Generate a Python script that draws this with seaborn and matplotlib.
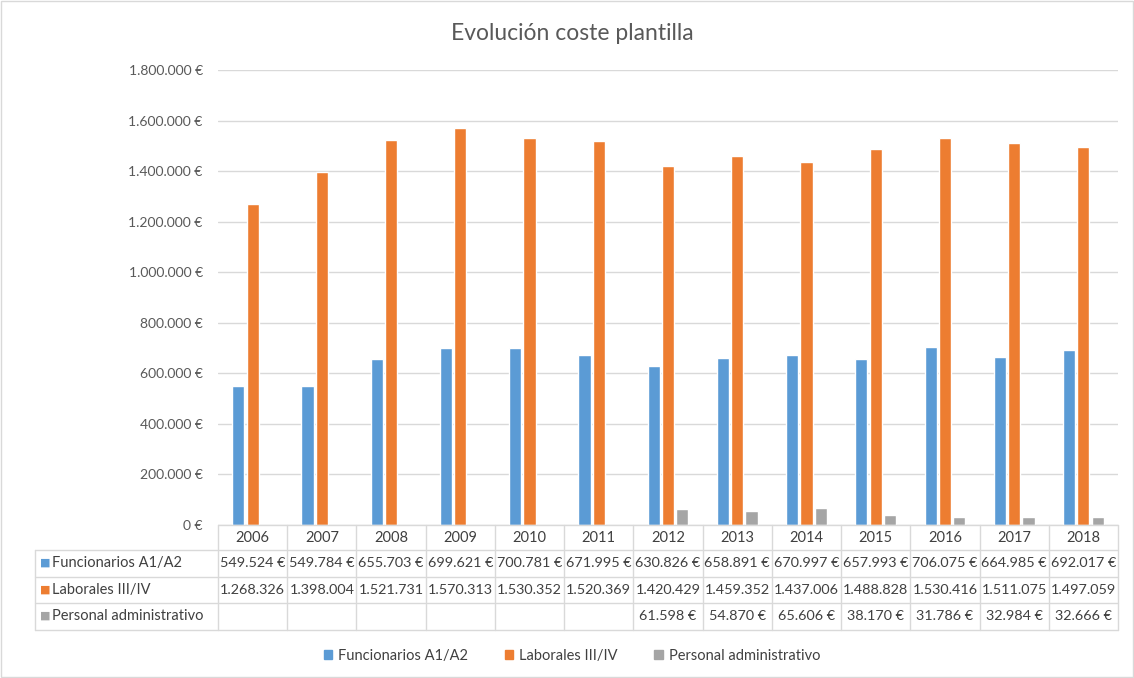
import matplotlib
matplotlib.use("Agg")
import matplotlib.pyplot as plt
import matplotlib.transforms as mtransforms
from matplotlib.lines import Line2D
from matplotlib.ticker import FuncFormatter
import seaborn as sns
import pandas as pd
import numpy as np

years = ["2006", "2007", "2008", "2009", "2010", "2011", "2012",
         "2013", "2014", "2015", "2016", "2017", "2018"]
funcionarios = [549524, 549784, 655703, 699621, 700781, 671995, 630826,
                658891, 670997, 657993, 706075, 664985, 692017]
laborales = [1268326, 1398004, 1521731, 1570313, 1530352, 1520369, 1420429,
             1459352, 1437006, 1488828, 1530416, 1511075, 1497059]
personal = [np.nan, np.nan, np.nan, np.nan, np.nan, np.nan, 61598,
            54870, 65606, 38170, 31786, 32984, 32666]
series = ["Funcionarios A1/A2", "Laborales III/IV", "Personal administrativo"]
colors = ["#5B9BD5", "#ED7D31", "#A5A5A5"]

df = pd.DataFrame({
    "year": years * 3,
    "coste": funcionarios + laborales + personal,
    "serie": [series[0]] * 13 + [series[1]] * 13 + [series[2]] * 13,
})

sns.set_style("white")
plt.rcParams["font.family"] = ["Lato", "DejaVu Sans"]

W, H = 1134, 678
fig = plt.figure(figsize=(W / 100, H / 100), dpi=100)
ax = fig.add_axes([218 / W, 1 - 525 / H, 900 / W, 455 / H])

sns.barplot(data=df, x="year", y="coste", hue="serie", hue_order=series,
            palette=colors, order=years, width=0.62, gap=0.15,
            saturation=1, ax=ax, legend=False)

ax.set_ylim(0, 1800000)
ax.set_xlim(-0.5, 12.5)
ax.set_yticks(np.arange(0, 1800001, 200000))


def euro(v, pos):
    return f"{int(v):,}".replace(",", ".") + " €"


ax.yaxis.set_major_formatter(FuncFormatter(euro))
ax.tick_params(axis="y", labelsize=10, colors="#595959", length=0, pad=11)
ax.tick_params(axis="x", labelbottom=False, length=0)
ax.grid(axis="y", color="#D9D9D9", linewidth=1)
ax.set_axisbelow(True)
for s in ax.spines.values():
    s.set_visible(False)
ax.set_xlabel("")
ax.set_ylabel("")

fig.text(572 / W, 1 - 33 / H, "Evolución coste plantilla", ha="center",
         va="center", fontsize=16.5, color="#595959")

# data table under the axis
tr = mtransforms.blended_transform_factory(ax.transData, fig.transFigure)
lc = "#D9D9D9"


def fy(p):
    return 1 - p / H


rows_y = [525, 550, 577, 603, 630]
x_left = -0.5 - (218 - 35) / (900 / 13)
for i, yp in enumerate(rows_y):
    x0 = -0.5 if i == 0 else x_left
    fig.add_artist(Line2D([x0, 12.5], [fy(yp), fy(yp)], transform=tr,
                          color=lc, linewidth=1))
for k in range(14):
    fig.add_artist(Line2D([k - 0.5, k - 0.5], [fy(525), fy(630)],
                          transform=tr, color=lc, linewidth=1))
fig.add_artist(Line2D([x_left, x_left], [fy(550), fy(630)], transform=tr,
                      color=lc, linewidth=1))

for i, y in enumerate(years):
    fig.text(i, fy(538), y, transform=tr, ha="center", va="center",
             fontsize=10.5, color="#404040")

table_vals = [funcionarios, laborales, personal]
row_mid = [563, 590, 616]
for r, vals in enumerate(table_vals):
    fig.text(40 / W, fy(row_mid[r]), "■", color=colors[r], fontsize=8,
             ha="left", va="center", family=["DejaVu Sans"])
    fig.text(52 / W, fy(row_mid[r]), series[r], color="#404040",
             fontsize=10.5, ha="left", va="center")
    for i, v in enumerate(vals):
        if np.isnan(v):
            continue
        s = f"{int(v):,}".replace(",", ".")
        if v < 1000000:
            s += " €"
        fig.text(i, fy(row_mid[r]), s, transform=tr, ha="center",
                 va="center", fontsize=10.4, color="#404040")

handles = [plt.Rectangle((0, 0), 1, 1, color=c) for c in colors]
fig.legend(handles, series, loc="center", bbox_to_anchor=(572 / W, fy(656)),
           ncol=3, frameon=False, fontsize=10.5, handlelength=0.6,
           handleheight=0.6, columnspacing=2.5, handletextpad=0.4,
           labelcolor="#404040")

fig.add_artist(plt.Rectangle((0.001, 0.001), 0.998, 0.998,
                             transform=fig.transFigure, fill=False,
                             edgecolor="#D9D9D9", linewidth=1))

fig.savefig("out.png", dpi=100)
